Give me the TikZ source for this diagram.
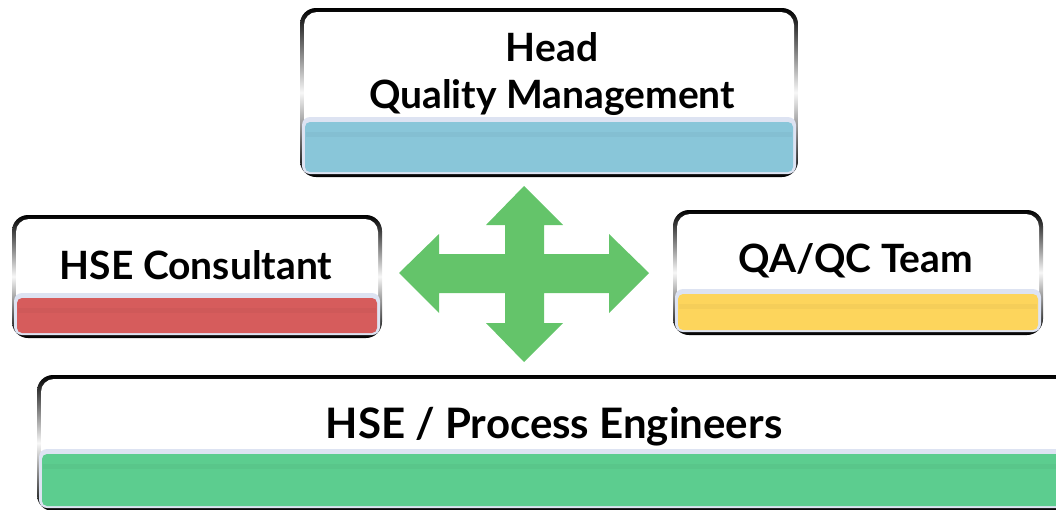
\documentclass[tikz,border=0pt]{standalone}
\usepackage{fontspec}
\setmainfont{Lato}
\usetikzlibrary{positioning}

\definecolor{barglow}{HTML}{DDE3F2}
\definecolor{headblue}{HTML}{89C6D9}
\definecolor{hsered}{HTML}{D65C5C}
\definecolor{qayellow}{HTML}{FDD55C}
\definecolor{enggreen}{HTML}{5CCD8F}
\definecolor{crossgreen}{HTML}{64C46A}

\tikzset{
  boxtext/.style={align=center, font=\fontsize{39}{47}\selectfont\bfseries, inner sep=0pt},
  widetext/.style={boxtext, font=\fontsize{42}{47}\selectfont\bfseries},
}

% x1, y1, x2, y2, bar top, bar colour
\newcommand{\orgpanel}[6]{%
  \shade[rounded corners=16pt, top color=black, bottom color=black, middle color=gray!6]
    (#1,#2) rectangle (#3,#4);
  \fill[white, rounded corners=13pt] (#1+4,#2+4) rectangle (#3-4,#4-4);
  \fill[barglow, rounded corners=8pt] (#1+2,#5-5) rectangle (#3-2,#4-3);
  \fill[#6, rounded corners=5pt] (#1+5,#5) rectangle (#3-5,#4-5);
  \fill[#6!90!black, opacity=0.3] (#1+6,#5+10) rectangle (#3-6,#5+15);
}

\begin{document}
\begin{tikzpicture}[x=1pt, y=-1pt]
  \useasboundingbox (0,0) rectangle (1056,509);
  \clip (0,0) rectangle (1056,509);

  \orgpanel{300}{8}{798}{177}{122}{headblue}
  \orgpanel{12}{215}{382}{338}{298}{hsered}
  \orgpanel{673}{210}{1043}{335}{294}{qayellow}
  \orgpanel{37}{375}{1075}{511}{454}{enggreen}

  \node[boxtext] (head) at (552,74) {Head\\Quality Management};
  \node[boxtext] (hse) at (196,265) {HSE Consultant};
  \node[boxtext] (qaqc) at (856,261) {QA/QC Team};
  \node[widetext] (eng) at (554,427) {HSE / Process Engineers};

  % four-way arrow
  \fill[crossgreen] (524,186) -- (563,225) -- (544,225) -- (544,254) -- (609,254)
    -- (609,234) -- (649,273) -- (609,313) -- (609,293) -- (544,293) -- (544,323)
    -- (563,323) -- (524,362) -- (486,323) -- (505,323) -- (505,293) -- (439,293)
    -- (439,313) -- (399,273) -- (439,234) -- (439,254) -- (505,254) -- (505,225)
    -- (486,225) -- cycle;
\end{tikzpicture}
\end{document}
